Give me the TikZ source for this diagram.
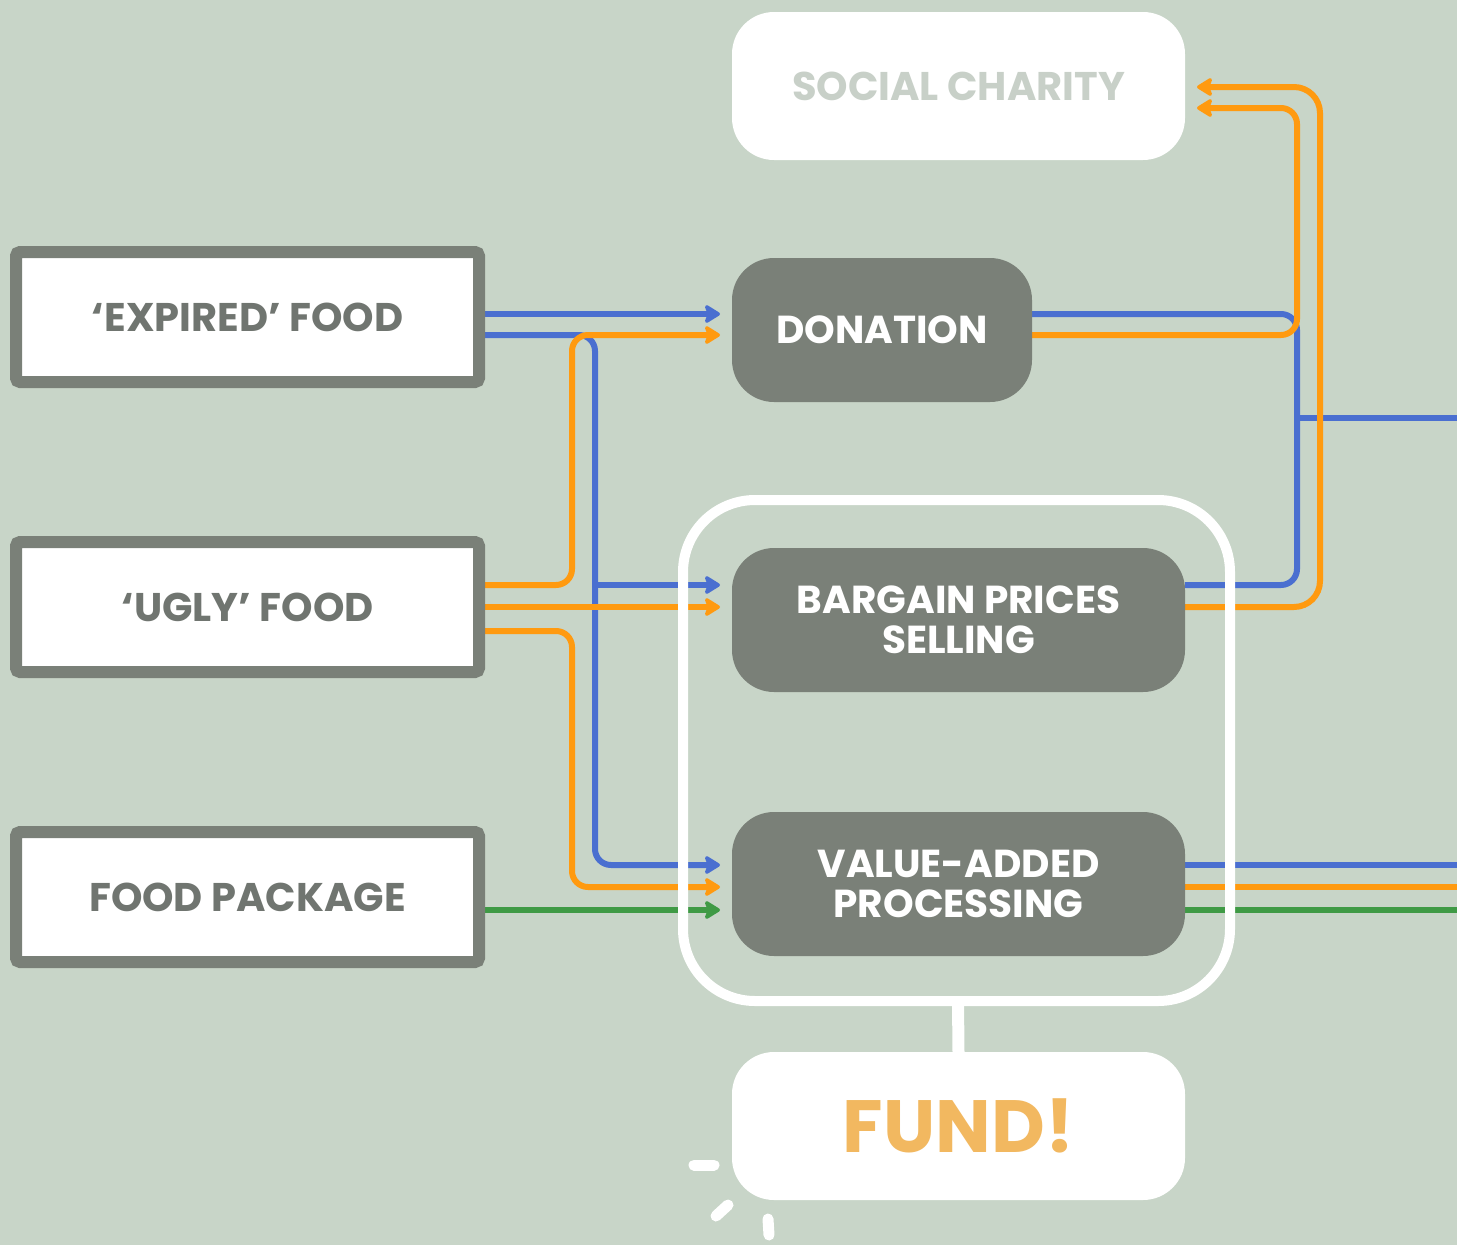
\documentclass[tikz,border=0pt]{standalone}
\usepackage{fontspec}
\setmainfont{Poppins}
\usetikzlibrary{arrows.meta,calc}
\pgfdeclarelayer{back}
\pgfdeclarelayer{lines}
\pgfsetlayers{back,lines,main}
\definecolor{bgc}{RGB}{200,213,200}
\definecolor{boxgray}{RGB}{122,128,120}
\definecolor{txtgray}{RGB}{112,117,112}
\definecolor{lblue}{RGB}{74,111,208}
\definecolor{lorange}{RGB}{255,154,16}
\definecolor{lgreen}{RGB}{63,154,69}
\definecolor{fundc}{RGB}{242,184,96}
\definecolor{socc}{RGB}{200,208,200}
\tikzset{
  srcbox/.style={draw=boxgray, line width=12pt, fill=white, rounded corners=4pt,
    minimum width=463pt, minimum height=130pt, inner sep=0pt, outer sep=0pt,
    text=txtgray, font=\fontsize{40}{40}\selectfont\bfseries},
  actbox/.style={fill=boxgray, rounded corners=42pt, minimum height=144pt,
    inner sep=0pt, outer sep=0pt, text=white, align=center,
    font=\fontsize{39}{40}\selectfont\bfseries},
  whitebox/.style={fill=white, rounded corners=42pt, minimum width=453pt,
    minimum height=148pt, inner sep=0pt, outer sep=0pt},
  flow/.style={line width=6pt, rounded corners=16pt},
  tip/.style={-{Stealth[length=18pt,width=22pt,inset=4pt,round]}},
  sparkle/.style={draw=white, line width=11pt, line cap=round}
}
\begin{document}
\begin{tikzpicture}[x=1pt,y=-1pt]
\begin{pgfonlayer}{back}
\fill[bgc] (0,0) rectangle (1457,1245);
\end{pgfonlayer}
\useasboundingbox (0,0) rectangle (1457,1245);

% source boxes
\node[srcbox] (exp) at (247.5,317) {‘EXPIRED’ FOOD};
\node[srcbox] (ugly) at (247.5,607) {‘UGLY’ FOOD};
\node[srcbox] (pkg) at (247.5,897) {FOOD PACKAGE};

% group outline
\draw[white, line width=10pt, rounded corners=72pt] (683,500) rectangle (1230,1001);
\coordinate (gbot) at (958,1001);

% action boxes
\node[actbox, minimum width=300pt] (don) at (882,330) {DONATION};
\node[actbox, minimum width=453pt] (bar) at (958.5,620) {BARGAIN PRICES\\SELLING};
\node[actbox, minimum width=453pt] (va) at (958.5,884) {VALUE-ADDED\\PROCESSING};

% white boxes
\node[whitebox, text=socc, font=\fontsize{40}{40}\selectfont\bfseries] (soc) at (958.5,86) {SOCIAL CHARITY};
\node[whitebox, text=fundc, font=\fontsize{74}{74}\selectfont\bfseries] (fund) at (958.5,1126) {FUND!};

\draw[white, line width=12pt] (gbot) -- (fund.north);

% sparkles
\draw[sparkle] (694,1165) -- (714,1165);
\draw[sparkle] (716,1216) -- (728,1205);
\draw[sparkle] (768,1219) -- (769,1235);

% right edge coordinates
\coordinate (R) at (1457,0);
\coordinate (jb) at (1297,418);

\begin{pgfonlayer}{lines}
% ---- blue
\draw[flow, lblue, tip] ([yshift=3pt]exp.east) -- ([xshift=-12pt,yshift=16pt]don.west);
\draw[flow, lblue, tip] ([yshift=-18pt]exp.east) -- (595,335) -- (595,865) -- ([xshift=-12pt,yshift=19pt]va.west);
\draw[line width=6pt, lblue, tip] (595,585) -- ([xshift=-12pt,yshift=35pt]bar.west);
\draw[flow, lblue] ([yshift=16pt]don.east) -- (1297,314) -- (1297,585) -- ([yshift=35pt]bar.east);
\draw[line width=6pt, lblue] (jb) -- (jb -| R);
\draw[line width=6pt, lblue] ([yshift=19pt]va.east) -- ([yshift=19pt]va.east -| R);
% ---- orange
\draw[flow, lorange, tip] ([yshift=22pt]ugly.east) -- (572,585) -- (572,335) -- ([xshift=-12pt,yshift=-5pt]don.west);
\draw[line width=6pt, lorange, tip] (ugly.east) -- ([xshift=-12pt,yshift=13pt]bar.west);
\draw[flow, lorange, tip] ([yshift=-24pt]ugly.east) -- (572,631) -- (572,887) -- ([xshift=-12pt,yshift=-3pt]va.west);
\draw[flow, lorange, tip] ([yshift=-5pt]don.east) -- (1297,335) -- (1297,108) -- ([xshift=12pt,yshift=-22pt]soc.east);
\draw[flow, lorange, tip, rounded corners=26pt] ([yshift=13pt]bar.east) -- (1320,607) -- (1320,87) -- ([xshift=12pt,yshift=-1pt]soc.east);
\draw[line width=6pt, lorange] ([yshift=-3pt]va.east) -- ([yshift=-3pt]va.east -| R);
% ---- green
\draw[line width=6pt, lgreen, tip] ([yshift=-13pt]pkg.east) -- ([xshift=-12pt,yshift=-26pt]va.west);
\draw[line width=6pt, lgreen] ([yshift=-26pt]va.east) -- ([yshift=-26pt]va.east -| R);
\end{pgfonlayer}
\end{tikzpicture}
\end{document}
